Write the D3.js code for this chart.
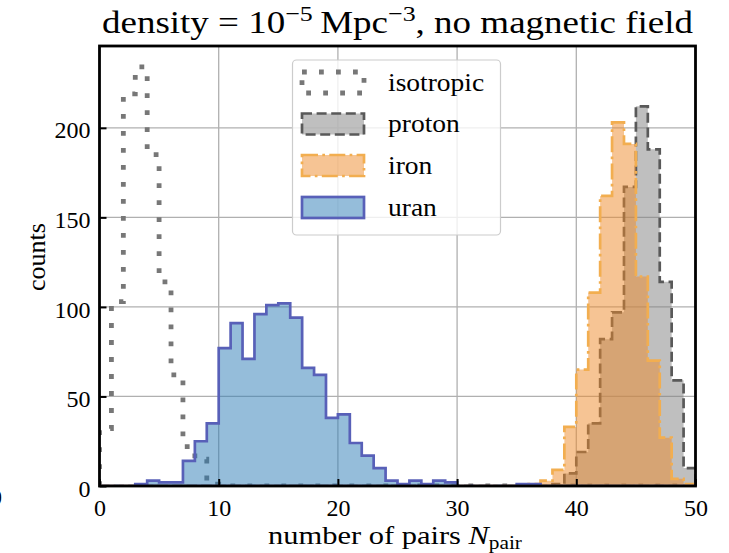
<!DOCTYPE html>
<html>
<head>
<meta charset="utf-8">
<script src="https://cdn.jsdelivr.net/npm/d3@7"></script>
<style>
  html, body { margin: 0; padding: 0; background: #fff; }
  svg { display: block; }
  text { font-family: "Liberation Serif", "DejaVu Serif", serif; fill: #000; }
</style>
</head>
<body>
<svg id="chart" width="729" height="553"></svg>
<script>
// ---- data (counts per unit-width bin, bins [k, k+1) for k = 0..49) ----
const binStarts = [0,1,2,3,4,5,6,7,8,9,10,11,12,13,14,15,16,17,18,19,20,21,22,23,24,25,26,27,28,29,30,31,32,33,34,35,36,37,38,39,40,41,42,43,44,45,46,47,48,49];
const isotropicCounts = [32,103,219,234,185,114,62,22,15,1, 0,0,0,0,0,0,0,0,0,0, 0,0,0,0,0,0,0,0,0,0, 0,0,0,0,0,0,0,0,0,0, 0,0,0,0,0,0,0,0,0,0];
const protonCounts    = [0,0,0,0,0,0,0,0,0,0, 0,0,0,0,0,0,0,0,0,0, 0,0,0,0,0,0,0,0,0,0, 0,0,0,0,0,0,0,0,1,7, 19,35,82,97,167,212,188,114,59,10];
const ironCounts      = [0,0,0,0,0,0,0,0,0,0, 0,0,0,0,0,0,0,0,0,0, 0,0,0,0,0,0,0,0,0,0, 0,0,0,0,0,0,1,3,9,33, 65,108,162,203,191,117,70,27,4,1];
const uranCounts      = [0,0,0,1,3,2,2,14,25,35, 77,91,71,96,101,102,94,66,62,38, 40,24,17,10,3,1,3,1,3,2, 0,0,0,0,0,1,1,0,0,0, 0,0,0,0,0,0,0,0,0,0];
const seriesNames = ["isotropic", "proton", "iron", "uran"];
const xTicks = [0, 10, 20, 30, 40, 50];
const yTicks = [0, 50, 100, 150, 200];
const xDomain = [0, 50];

// ---- styles ----
const styles = {
  isotropic: { fill: "none", fillOpacity: 0, stroke: "#777777", width: 4.8, dash: "4.8 12.2" },
  proton:    { fill: "#808080", fillOpacity: 0.5, stroke: "#595959", width: 2.7, dash: "10 4.6" },
  iron:      { fill: "#ee8a2a", fillOpacity: 0.5, stroke: "#f2ae50", width: 2.7, dash: "16 4.3 2.7 4.3" },
  uran:      { fill: "#2c7bb6", fillOpacity: 0.5, stroke: "#5860b8", width: 2.7, dash: null }
};

const svg = d3.select("#chart");
const X0 = 99.5, X1 = 695.5, YT = 46, YB = 486;
const allMax = d3.max([isotropicCounts, protonCounts, ironCounts, uranCounts].flat());
const x = d3.scaleLinear().domain(xDomain).range([X0, X1]);
const y = d3.scaleLinear().domain([0, allMax * 1.05]).range([YB, YT]);

// clip
svg.append("defs").append("clipPath").attr("id", "plotclip")
  .append("rect").attr("x", X0).attr("y", YT).attr("width", X1 - X0).attr("height", YB - YT);

// grid
const grid = svg.append("g");
grid.selectAll("line.gx").data(xTicks).join("line")
  .attr("x1", d => x(d)).attr("x2", d => x(d)).attr("y1", YT).attr("y2", YB)
  .attr("stroke", "#b0b0b0").attr("stroke-width", 1.3);
grid.selectAll("line.gy").data(yTicks).join("line")
  .attr("x1", X0).attr("x2", X1).attr("y1", d => y(d)).attr("y2", d => y(d))
  .attr("stroke", "#b0b0b0").attr("stroke-width", 1.3);

// histograms
function stepPoints(counts) {
  const pts = [[xDomain[0], 0]];
  counts.forEach((c, i) => { pts.push([binStarts[i], c]); pts.push([binStarts[i] + 1, c]); });
  pts.push([xDomain[1], 0]);
  return pts;
}
const line = d3.line().x(d => x(d[0])).y(d => y(d[1]));
const dataMap = { isotropic: isotropicCounts, proton: protonCounts, iron: ironCounts, uran: uranCounts };
const hg = svg.append("g").attr("clip-path", "url(#plotclip)");
seriesNames.forEach(name => {
  const s = styles[name];
  const pts = stepPoints(dataMap[name]);
  if (s.fill !== "none") {
    hg.append("path").attr("d", line(pts) + "Z")
      .attr("fill", s.fill).attr("fill-opacity", s.fillOpacity).attr("stroke", "none");
  }
  hg.append("path").attr("d", s.fill !== "none" ? line(pts) + "Z" : line(pts))
    .attr("fill", "none").attr("stroke", s.stroke).attr("stroke-width", s.width)
    .attr("stroke-dasharray", s.dash).attr("stroke-linejoin", "miter").attr("stroke-linecap", "butt");
});

// axes (inward ticks)
const xAxis = svg.append("g").attr("transform", `translate(0,${YB})`)
  .call(d3.axisBottom(x).tickValues(xTicks).tickSize(-7).tickPadding(13).tickFormat(d3.format("d")));
const yAxis = svg.append("g").attr("transform", `translate(${X0},0)`)
  .call(d3.axisLeft(y).tickValues(yTicks).tickSize(-7).tickPadding(9).tickFormat(d3.format("d")));
[xAxis, yAxis].forEach(a => {
  a.select(".domain").remove();
  a.selectAll(".tick line").attr("stroke", "#000").attr("stroke-width", 2);
  a.selectAll(".tick text").attr("font-family", "Liberation Serif").attr("font-size", 24).attr("fill", "#000");
});
xAxis.selectAll(".tick text").attr("dy", "0.71em");
yAxis.selectAll(".tick text").attr("dy", "0.42em");

// spines
svg.append("rect").attr("x", X0).attr("y", YT).attr("width", X1 - X0).attr("height", YB - YT)
  .attr("fill", "none").attr("stroke", "#000").attr("stroke-width", 2.8);

// horizontal stretch helper (serif substitute is narrower than the original)
function stretchTo(g, sel, cx, cy, target) {
  const w = sel.node().getBBox().width;
  g.attr("transform", `translate(${cx},${cy}) scale(${target / w},1)`);
}

// title
const tg = svg.append("g");
const title = tg.append("text").attr("x", 0).attr("y", 0)
  .attr("text-anchor", "middle").attr("font-size", 31);
title.append("tspan").text("density = 10");
title.append("tspan").attr("font-size", "70%").attr("dy", "-0.55em").text("\u22125");
title.append("tspan").attr("dy", "0.385em").text("\u2009Mpc");
title.append("tspan").attr("font-size", "70%").attr("dy", "-0.55em").text("\u22123");
title.append("tspan").attr("dy", "0.385em").text(", no magnetic field");
stretchTo(tg, title, (X0 + X1) / 2, 33, 592);

// x label
const xg = svg.append("g");
const xl = xg.append("text").attr("x", 0).attr("y", 0)
  .attr("text-anchor", "middle").attr("font-size", 26);
xl.append("tspan").text("number of pairs ");
xl.append("tspan").attr("font-style", "italic").text("N");
xl.append("tspan").attr("font-size", "70%").attr("dy", "0.3em").text("pair");
stretchTo(xg, xl, 395, 544, 254);

// y label
const yl = svg.append("text").attr("transform", "translate(45,257) rotate(-90)")
  .attr("text-anchor", "middle").attr("font-size", 26).text("counts");

// cropped neighbour label at the far left edge
svg.append("text").attr("x", -4).attr("y", 505).attr("text-anchor", "middle")
  .attr("font-size", 24).text("0");

// legend
const lg = svg.append("g");
lg.append("rect").attr("x", 292.5).attr("y", 60).attr("width", 208).attr("height", 175)
  .attr("rx", 4).attr("fill", "#fff").attr("fill-opacity", 0.8)
  .attr("stroke", "#cccccc").attr("stroke-width", 1.2);
const rowY = [82.5, 124, 165.5, 207.5];
seriesNames.forEach((name, i) => {
  const s = styles[name];
  lg.append("rect").attr("x", 302).attr("y", rowY[i] - 10.5).attr("width", 62).attr("height", 21)
    .attr("fill", s.fill).attr("fill-opacity", s.fillOpacity)
    .attr("stroke", s.stroke).attr("stroke-width", s.width).attr("stroke-dasharray", s.dash);
  const g = lg.append("g");
  g.append("text").attr("x", 0).attr("y", 0).attr("dy", "0.32em")
    .attr("font-size", 25).text(name);
  g.attr("transform", `translate(388,${rowY[i]}) scale(1.1,1)`);
});
</script>
</body>
</html>
